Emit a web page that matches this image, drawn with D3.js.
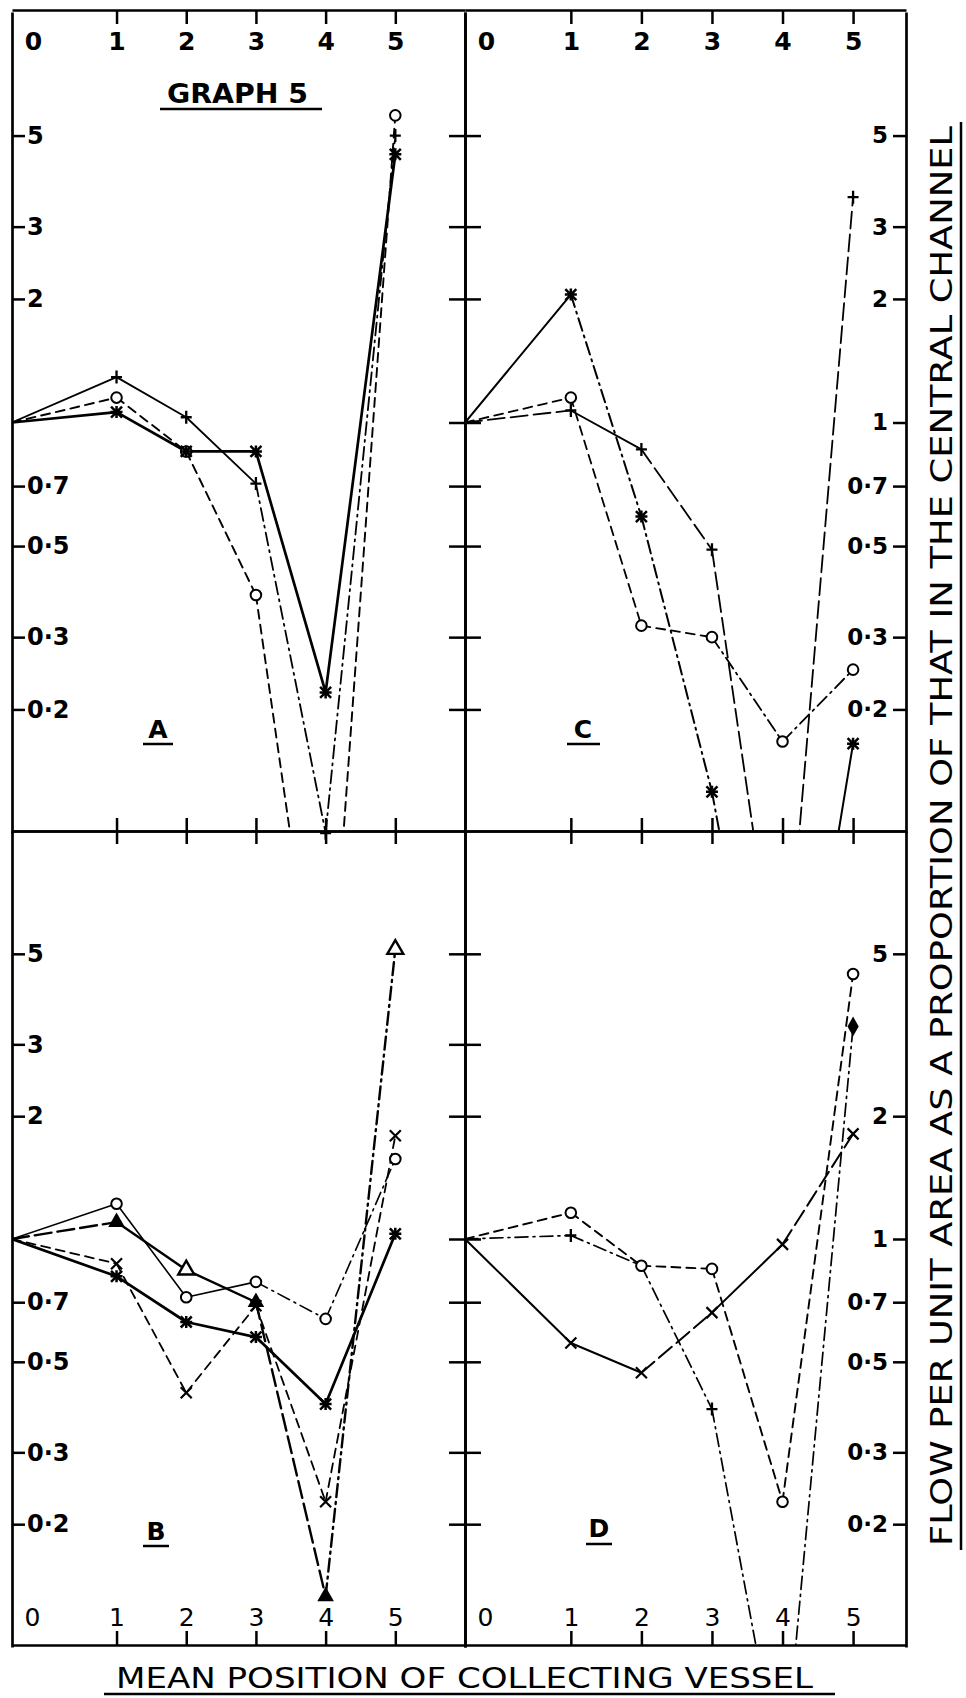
<!DOCTYPE html>
<html><head><meta charset="utf-8">
<script src="https://cdn.jsdelivr.net/npm/d3@7"></script>
<style>body{margin:0;background:#fff}svg{display:block}</style>
</head><body>
<svg id="chart" width="966" height="1698"></svg>
<script>
// ---------------- DATA ----------------
// x: mean position of collecting vessel (drawing position of vessels 0..5)
const vesselX = [0, 1.5, 2.5, 3.5, 4.5, 5.5];
const vesselLabels = ["0", "1", "2", "3", "4", "5"];

// y tick values / labels (log scale)
const leftTickValues = [5, 3, 2, 0.7, 0.5, 0.3, 0.2];
const leftTickLabels = ["5", "3", "2", "0·7", "0·5", "0·3", "0·2"];
const rightTickValuesC = [5, 3, 2, 1, 0.7, 0.5, 0.3, 0.2];
const rightTickLabelsC = ["5", "3", "2", "1", "0·7", "0·5", "0·3", "0·2"];
const rightTickValuesD = [5, 2, 1, 0.7, 0.5, 0.3, 0.2];
const rightTickLabelsD = ["5", "2", "1", "0·7", "0·5", "0·3", "0·2"];
const midTickValues = [5, 3, 2, 1, 0.7, 0.5, 0.3, 0.2];

// Panel A
const A_cross = [1, 1.06, 0.85, 0.85, 0.22, 4.5];
const A_plus  = [1, 1.29, 1.03, 0.71, 0.10, 5.0];
const A_circ  = [1, 1.15, 0.85, 0.38, 0.025, 5.6];
// Panel C
const C_cross = [1, 2.05, 0.59, 0.126, 0.015, 0.165];
const C_plus  = [1, 1.07, 0.86, 0.49, 0.033, 3.54];
const C_circ  = [1, 1.15, 0.32, 0.30, 0.167, 0.25];
// Panel B
const B_star  = [1, 0.81, 0.626, 0.575, 0.394, 1.03];
const B_tri   = [1, 1.10, 0.84, 0.70, 0.133, 5.13];
const B_circ  = [1, 1.22, 0.72, 0.785, 0.637, 1.57];
const B_cross = [1, 0.87, 0.42, 0.686, 0.227, 1.79];
// Panel D
const D_cross = [1, 0.556, 0.47, 0.66, 0.97, 1.81];
const D_circ  = [1, 1.16, 0.86, 0.845, 0.227, 4.46];
const D_plus  = [1, 1.02, 0.86, 0.383, 0.045, 3.32];

// ---------------- LAYOUT ----------------
const svg = d3.select("#chart");
const L = 12, M = 465, R = 906, T = 10, MID = 831, B = 1645;
const FONT = "DejaVu Sans, Verdana, sans-serif";

const xLeft = d3.scaleLinear().domain([0, 6.5]).range([L, M]);
const xRight = d3.scaleLinear().domain([0, 6.25]).range([M, R]);
const yTop = d3.scaleLog().domain([0.1, 10]).range([833, 12]);
const yBot = d3.scaleLog().domain([0.1, 10]).range([1647, 831]);

const dashes = { solid: null, dashed: "9,6", dashdot: "13,5,2,5", longdash: "17,6" };

const panels = [
  { id: "A", x: xLeft, y: yTop, clip: [L, T, M - L, MID - T],
    series: [
      { v: A_circ, seg: ["dashed","dashed","dashed","dashed","dashed"], w: 1.9, m: "circle" },
      { v: A_plus, seg: ["solid","solid","solid","dashdot","dashdot"], w: 1.8, m: "plus" },
      { v: A_cross, seg: ["solid","solid","solid","solid","solid"], w: 2.7, m: "star" }
    ] },
  { id: "C", x: xRight, y: yTop, clip: [M, T, R - M, MID - T],
    series: [
      { v: C_circ, seg: ["dashed","dashed","dashed","dashdot","dashdot"], w: 1.8, m: "circle" },
      { v: C_plus, seg: ["longdash","solid","longdash","longdash","longdash"], w: 1.8, m: "plus" },
      { v: C_cross, seg: ["solid","dashdot","dashdot","dashdot","solid"], w: 2.0, m: "star" }
    ] },
  { id: "B", x: xLeft, y: yBot, clip: [L, MID, M - L, B - MID],
    series: [
      { v: B_circ, seg: ["solid","solid","solid","dashdot","dashdot"], w: 1.6, m: "circle" },
      { v: B_cross, seg: ["dashed","dashed","dashed","dashed","dashed"], w: 1.8, m: "cross" },
      { v: B_tri, seg: ["longdash","solid","solid","longdash","dashdot"], w: 2.4, m: "tri",
        mk: [null, "tri", "triOpen", "tri", "tri", "triOpen"] },
      { v: B_star, seg: ["solid","solid","solid","solid","solid"], w: 2.7, m: "star" }
    ] },
  { id: "D", x: xRight, y: yBot, clip: [M, MID, R - M, B - MID],
    series: [
      { v: D_circ, seg: ["dashed","dashed","dashed","dashed","dashed"], w: 1.9, m: "circle" },
      { v: D_plus, seg: ["dashdot","dashdot","dashdot","dashdot","dashdot"], w: 1.7, m: "plus",
        mk: [null, "plus", null, "plus", "plus", "diamond"] },
      { v: D_cross, seg: ["solid","solid","longdash","solid","longdash"], w: 2.0, m: "cross" }
    ] }
];

const defs = svg.append("defs");
panels.forEach(p => {
  defs.append("clipPath").attr("id", "clip" + p.id).append("rect")
    .attr("x", p.clip[0]).attr("y", p.clip[1]).attr("width", p.clip[2]).attr("height", p.clip[3]);
});

// ---------------- DATA LINES ----------------
function drawMarker(g, type, x, y) {
  const s = 5.5;
  if (type === "circle") {
    g.append("circle").attr("cx", x).attr("cy", y).attr("r", 5.3)
      .attr("fill", "#fff").attr("stroke", "#000").attr("stroke-width", 2);
  } else if (type === "cross") {
    g.append("path").attr("d", `M${x-s},${y-s}L${x+s},${y+s}M${x-s},${y+s}L${x+s},${y-s}`)
      .attr("stroke", "#000").attr("stroke-width", 2.2).attr("fill", "none");
  } else if (type === "plus") {
    g.append("path").attr("d", `M${x-s},${y}L${x+s},${y}M${x},${y-s-1}L${x},${y+s+1}`)
      .attr("stroke", "#000").attr("stroke-width", 2.3).attr("fill", "none");
  } else if (type === "star") {
    g.append("path").attr("d", `M${x-s},${y-s}L${x+s},${y+s}M${x-s},${y+s}L${x+s},${y-s}M${x-6},${y}L${x+6},${y}M${x},${y-6}L${x},${y+6}`)
      .attr("stroke", "#000").attr("stroke-width", 2.5).attr("fill", "none");
  } else if (type === "tri") {
    g.append("path").attr("d", d3.symbol().type(d3.symbolTriangle).size(120)())
      .attr("transform", `translate(${x},${y})`).attr("fill", "#000");
  } else if (type === "triOpen") {
    g.append("path").attr("d", d3.symbol().type(d3.symbolTriangle).size(110)())
      .attr("transform", `translate(${x},${y})`).attr("fill", "#fff")
      .attr("stroke", "#000").attr("stroke-width", 2.4);
  } else if (type === "diamond") {
    g.append("path").attr("d", d3.symbol().type(d3.symbolDiamond).size(110)())
      .attr("transform", `translate(${x},${y})`).attr("fill", "#000");
  }
}

panels.forEach(p => {
  const g = svg.append("g").attr("clip-path", `url(#clip${p.id})`);
  p.series.forEach(s => {
    for (let i = 0; i < s.v.length - 1; i++) {
      const pts = [[p.x(vesselX[i]), p.y(s.v[i])], [p.x(vesselX[i + 1]), p.y(s.v[i + 1])]];
      g.append("path").attr("d", d3.line()(pts))
        .attr("fill", "none").attr("stroke", "#000")
        .attr("stroke-width", s.w)
        .attr("stroke-dasharray", dashes[s.seg[i]])
        .attr("stroke-linecap", "round").attr("stroke-linejoin", "round");
    }
  });
  const mg = svg.append("g");
  p.series.forEach(s => {
    s.v.forEach((val, i) => {
      if (i === 0 || val < 0.099 || val > 10) return;
      const type = s.mk ? s.mk[i] : s.m;
      if (type) drawMarker(mg, type, p.x(vesselX[i]), p.y(val));
    });
  });
});

// ---------------- AXES ----------------
function styleAxis(g, size, bold) {
  g.attr("font-family", FONT).attr("font-size", size);
  g.selectAll("path.domain").attr("stroke", "#000").attr("stroke-width", 2.7);
  g.selectAll(".tick line").attr("stroke", "#000").attr("stroke-width", 2.5);
  g.selectAll(".tick text").attr("fill", "#000").attr("font-weight", bold ? "bold" : "normal");
}
const noLabel = () => "";

// top axis (labels below ticks)
[xLeft, xRight].forEach(xs => {
  const g = svg.append("g").attr("transform", `translate(0,${T})`)
    .call(d3.axisBottom(xs).tickValues(vesselX).tickSize(14).tickPadding(8).tickSizeOuter(0)
      .tickFormat((d, i) => vesselLabels[i]));
  styleAxis(g, 25, true);
  g.selectAll(".tick").filter(d => d === 0).select("line").remove();
  g.selectAll(".tick text").filter(d => d === 0).attr("dx", 21);
});

// bottom axis (labels above ticks)
[xLeft, xRight].forEach(xs => {
  const g = svg.append("g").attr("transform", `translate(0,${B})`)
    .call(d3.axisTop(xs).tickValues(vesselX).tickSize(14).tickPadding(5).tickSizeOuter(0)
      .tickFormat((d, i) => vesselLabels[i]));
  styleAxis(g, 25, false);
  g.selectAll(".tick").filter(d => d === 0).select("line").remove();
  g.selectAll(".tick text").filter(d => d === 0).attr("dx", 20);
});

// middle horizontal axis with crossing ticks
[xLeft, xRight].forEach(xs => {
  [d3.axisTop, d3.axisBottom].forEach(ax => {
    const g = svg.append("g").attr("transform", `translate(0,${MID})`)
      .call(ax(xs).tickValues(vesselX.slice(1)).tickSize(13).tickSizeOuter(0).tickFormat(noLabel));
    styleAxis(g, 10, false);
  });
});

// left axes (A, B) ticks & labels to the right
[yTop, yBot].forEach(ys => {
  const g = svg.append("g").attr("transform", `translate(${L},0)`)
    .call(d3.axisRight(ys).tickValues(leftTickValues).tickSize(13).tickPadding(2).tickSizeOuter(0)
      .tickFormat((d, i) => leftTickLabels[i]));
  styleAxis(g, 24, true);
});

// middle vertical axis with crossing ticks
[yTop, yBot].forEach(ys => {
  [d3.axisLeft, d3.axisRight].forEach(ax => {
    const g = svg.append("g").attr("transform", `translate(${M},0)`)
      .call(ax(ys).tickValues(midTickValues).tickSize(16).tickSizeOuter(0).tickFormat(noLabel));
    styleAxis(g, 10, false);
  });
});

// right axes (C, D) ticks & labels to the left
[[yTop, rightTickValuesC, rightTickLabelsC], [yBot, rightTickValuesD, rightTickLabelsD]].forEach(([ys, vals, labs]) => {
  const g = svg.append("g").attr("transform", `translate(${R},0)`)
    .call(d3.axisLeft(ys).tickValues(vals).tickSize(13).tickPadding(5).tickSizeOuter(0)
      .tickFormat((d, i) => labs[i]));
  styleAxis(g, 23, true);
});

// ---------------- TEXT ----------------
function addText(txt, x, y, size, weight, len, anchor) {
  const t = svg.append("text").attr("x", x).attr("y", y).text(txt)
    .attr("font-family", FONT).attr("font-size", size).attr("font-weight", weight)
    .attr("text-anchor", anchor || "start");
  if (len) t.attr("textLength", len).attr("lengthAdjust", "spacingAndGlyphs");
}
function hline(y, x0, x1) {
  svg.append("line").attr("x1", x0).attr("x2", x1).attr("y1", y).attr("y2", y)
    .attr("stroke", "#000").attr("stroke-width", 2.5);
}
addText("GRAPH 5", 167, 103, 27, "bold", 141);
hline(109, 160, 322);
addText("A", 158, 738, 25, "bold", null, "middle");  hline(744, 143, 173);
addText("C", 583, 738, 25, "bold", null, "middle");  hline(744, 567, 600);
addText("B", 156, 1540, 25, "bold", null, "middle"); hline(1546, 143, 169);
addText("D", 599, 1537, 25, "bold", null, "middle"); hline(1544, 586, 612);
addText("MEAN POSITION OF COLLECTING VESSEL", 116, 1688, 28, "normal", 697);
hline(1694, 104, 835);

// rotated y-axis title
svg.append("text")
  .attr("transform", "translate(952,836) rotate(-90)")
  .attr("text-anchor", "middle")
  .attr("font-family", FONT).attr("font-size", 30)
  .attr("textLength", 1420).attr("lengthAdjust", "spacingAndGlyphs")
  .text("FLOW PER UNIT AREA AS A PROPORTION OF THAT IN THE CENTRAL CHANNEL");
svg.append("line").attr("x1", 961).attr("x2", 961).attr("y1", 122).attr("y2", 1550)
  .attr("stroke", "#000").attr("stroke-width", 2.5);
</script>
</body></html>
